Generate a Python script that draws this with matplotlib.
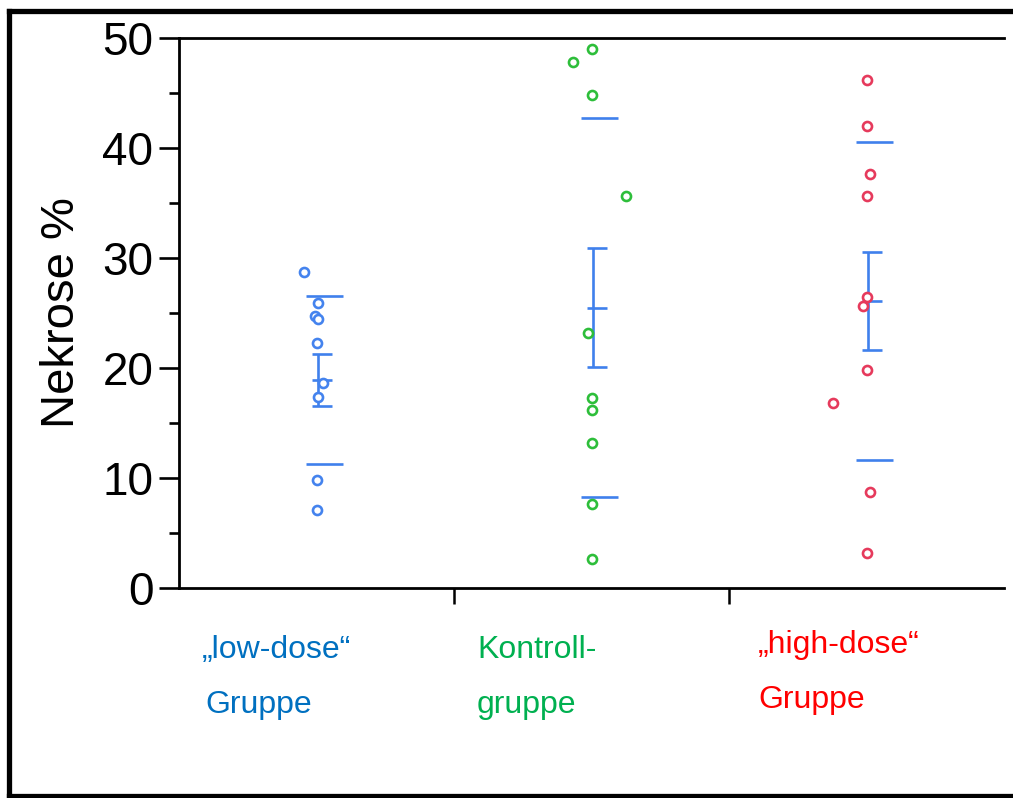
import matplotlib
matplotlib.use("Agg")
import matplotlib.pyplot as plt
from matplotlib.lines import Line2D
from matplotlib.ticker import MultipleLocator, FixedLocator, NullFormatter
import numpy as np

plt.rcParams['font.family'] = ['Liberation Sans', 'DejaVu Sans']

# ---- data ----
categories = ["low", "control", "high"]
label_line1 = ["\u201elow-dose\u201c", "Kontroll-", "\u201ehigh-dose\u201c"]
label_line2 = ["Gruppe", "gruppe", "Gruppe"]

low_values = [28.7, 25.9, 24.7, 24.5, 22.3, 18.6, 17.4, 9.8, 7.1]
low_jitter = [-0.044, 0.004, -0.007, 0.004, 0.0, 0.025, 0.004, 0.0, 0.0]

control_values = [49.0, 47.8, 44.8, 35.6, 23.2, 17.3, 16.2, 13.2, 7.6, 2.6]
control_jitter = [0.0, -0.067, 0.0, 0.124, -0.011, 0.0, 0.0, 0.0, 0.0, 0.0]

high_values = [46.2, 42.0, 37.6, 35.6, 26.5, 25.6, 19.8, 16.8, 8.7, 3.2]
high_jitter = [0.0, 0.0, 0.011, 0.0, 0.0, -0.012, 0.0, -0.123, 0.011, 0.0]

group_means = [18.9, 25.5, 26.1]
group_sd = [7.65, 17.2, 14.45]
group_sem = [2.35, 5.45, 4.45]

yticks_major = [0, 10, 20, 30, 40, 50]

# ---- styles ----
point_colors = ["#4483EE", "#2DBE3A", "#E63A5C"]
label_colors = ["#0070C0", "#00B050", "#FF0000"]
line_blue = "#3F80EC"

fig = plt.figure(figsize=(10.13, 7.98), dpi=100)
W, H = 1013, 798
ax = fig.add_axes([179 / W, 1 - 588 / H, 825 / W, 550 / H])

groups = [(low_values, low_jitter), (control_values, control_jitter), (high_values, high_jitter)]
for i, (vals, jit) in enumerate(groups):
    xs = np.array(jit) + i
    ax.plot(xs, vals, linestyle='none', marker='o', markersize=6.5,
            markerfacecolor='white', markeredgecolor=point_colors[i],
            markeredgewidth=1.9, zorder=3)

for i in range(len(categories)):
    m, sd, se = group_means[i], group_sd[i], group_sem[i]
    # SD lines
    ax.hlines([m + sd, m - sd], i - 0.040, i + 0.098, colors=line_blue, lw=1.9, zorder=2)
    # SEM error bar
    ax.vlines(i + 0.007, m - se, m + se, colors=line_blue, lw=1.9, zorder=2)
    ax.hlines([m + se, m, m - se], i - 0.018, i + 0.055, colors=line_blue, lw=1.9, zorder=2)

ax.set_xlim(-0.5, 2.5)
ax.set_ylim(0, 50)

ax.spines['right'].set_visible(False)
for s in ['left', 'top', 'bottom']:
    ax.spines[s].set_linewidth(2.0)
    ax.spines[s].set_color('black')

ax.yaxis.set_major_locator(FixedLocator(yticks_major))
ax.yaxis.set_minor_locator(MultipleLocator(5))
ax.tick_params(axis='y', which='major', length=14.5, width=1.9, labelsize=33, pad=4)
ax.tick_params(axis='y', which='minor', length=7.5, width=1.9)
ax.xaxis.set_major_locator(FixedLocator([0.5, 1.5]))
ax.xaxis.set_major_formatter(NullFormatter())
ax.tick_params(axis='x', which='major', length=11.5, width=1.8, direction='out')

ax.set_ylabel("Nekrose %", fontsize=34)
ax.yaxis.set_label_coords((84 - 179) / 825, 0.5)

# category labels (two lines each)
line1_x = [202, 477, 758]
line1_y = [658, 658, 653]
line2_x = [205, 477, 758]
line2_y = [713, 713, 708]
for i in range(len(categories)):
    fig.text(line1_x[i] / W, 1 - line1_y[i] / H, label_line1[i], color=label_colors[i],
             fontsize=23, ha='left', va='baseline')
    fig.text(line2_x[i] / W, 1 - line2_y[i] / H, label_line2[i], color=label_colors[i],
             fontsize=23, ha='left', va='baseline')

# outer frame (left, top, bottom)
lw_frame = 3.8
fig.add_artist(Line2D([8.5 / W, 8.5 / W], [1 - 10.5 / H, 1 - 796 / H], color='black', lw=lw_frame,
                      transform=fig.transFigure, solid_capstyle='projecting'))
fig.add_artist(Line2D([8.5 / W, 1.0], [1 - 10.5 / H, 1 - 10.5 / H], color='black', lw=lw_frame,
                      transform=fig.transFigure, solid_capstyle='projecting'))
fig.add_artist(Line2D([8.5 / W, 1.0], [1 - 796 / H, 1 - 796 / H], color='black', lw=lw_frame,
                      transform=fig.transFigure, solid_capstyle='projecting'))

fig.savefig("out.png", dpi=100)
